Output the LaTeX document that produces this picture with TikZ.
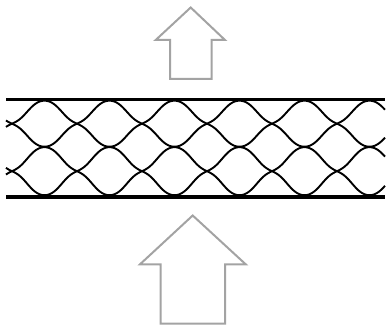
\documentclass[tikz,border=0pt]{standalone}
\tikzset{
  px/.style={x=1pt,y=-1pt},
  bar/.style={line width=3.8pt,black},
  wave/.style={line width=1.9pt,black,line join=round},
  bigarrow/.style={draw=black!36,line width=2pt,line join=miter,fill=none},
  declare function={
    prof(\t)=(20.8*cos(2.7692*(\t-44.5))+2.8*cos(8.3077*(\t-44.5))-0.6*cos(13.846*(\t-44.5)))/23;
  }
}
\begin{document}
\begin{tikzpicture}[px]
\useasboundingbox (0,0) rectangle (386,326);
\draw[bigarrow] (190.7,7.5) -- (225,40) -- (211.7,40) -- (211.7,79) -- (170,79) -- (170,40) -- (155.7,40) -- cycle;
\draw[bigarrow] (192.7,215.5) -- (245.7,264.3) -- (225,264.3) -- (225,323.7) -- (160.7,323.7) -- (160.7,264.3) -- (140,264.3) -- cycle;
\draw[bar] (6,99.5) -- (385,99.5);
\draw[bar] (6,197) -- (385,197);
\foreach \ymid/\amp in {123.7/-23, 123.7/23, 171.2/-24, 171.2/24}{
  \draw[wave] plot[domain=6:385,samples=380] (\x,{\ymid+\amp*prof(\x)});
}
\end{tikzpicture}
\end{document}
